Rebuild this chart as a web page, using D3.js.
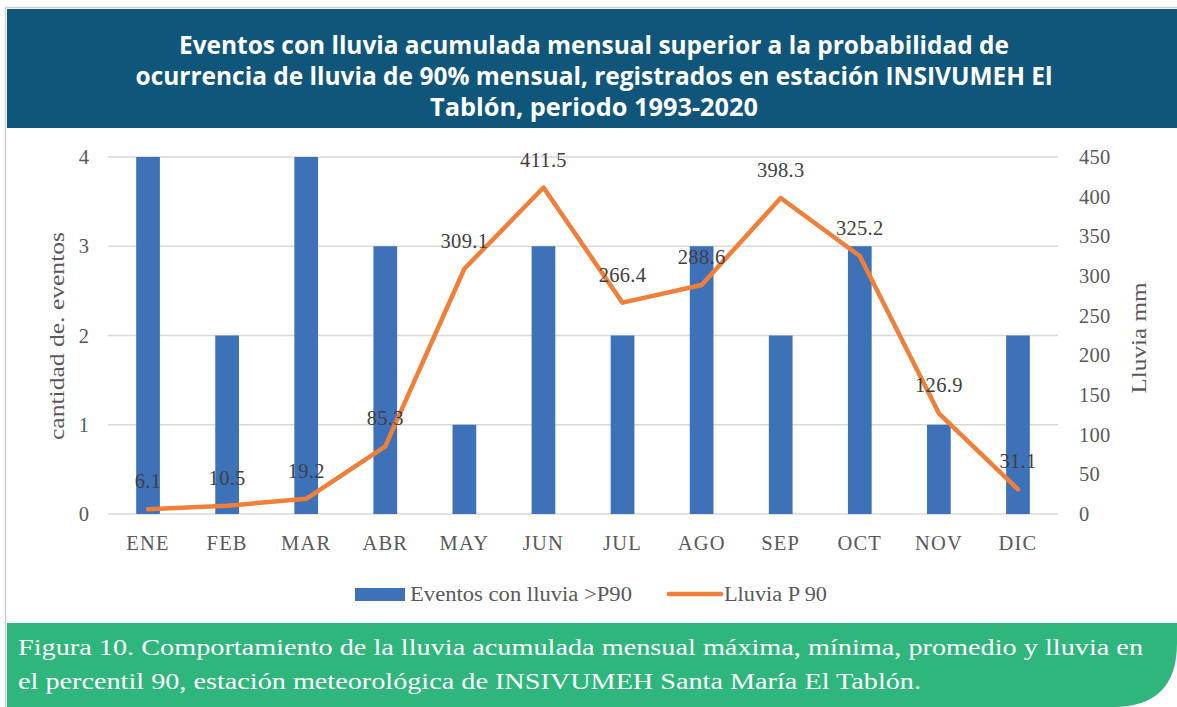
<!DOCTYPE html>
<html><head><meta charset="utf-8">
<script src="https://cdn.jsdelivr.net/npm/d3@7"></script>
<style>body{margin:0;background:#fff}svg{display:block}</style>
</head><body>
<svg id="c" width="1177" height="707"></svg>
<script>
const months = ["ENE","FEB","MAR","ABR","MAY","JUN","JUL","AGO","SEP","OCT","NOV","DIC"];
const eventos = [4,2,4,3,1,3,2,3,2,3,1,2];
const lluviaP90 = [6.1,10.5,19.2,85.3,309.1,411.5,266.4,288.6,398.3,325.2,126.9,31.1];
const leftTicks = [0,1,2,3,4];
const rightTicks = [0,50,100,150,200,250,300,350,400,450];
const titleLines = ["Eventos con lluvia acumulada mensual superior a la probabilidad de","ocurrencia de lluvia de 90% mensual, registrados en estación INSIVUMEH El","Tablón, periodo 1993-2020"];
const captionLines = ["Figura 10. Comportamiento de la lluvia acumulada mensual máxima, mínima, promedio y lluvia en","el percentil 90, estación meteorológica de INSIVUMEH Santa María El Tablón."];
const legendLabels = ["Eventos con lluvia >P90","Lluvia P 90"];

const svg = d3.select("#c");
const serif = "'Liberation Serif','DejaVu Serif',serif";
const txt = "#595959";

// outer border
svg.append("rect").attr("x",5.5).attr("y",7.5).attr("width",1180).attr("height",720)
  .attr("fill","none").attr("stroke","#d0d0d0").attr("stroke-width",1.5);
// title band
svg.append("rect").attr("x",7).attr("y",9).attr("width",1170).attr("height",119).attr("fill","#10567B");
const titleLens = [830,917,328];
svg.append("g").selectAll("text").data(titleLines).join("text")
  .attr("x",594).attr("y",(d,i)=>54+i*31).attr("text-anchor","middle")
  .attr("fill","#fff").attr("font-family","'Open Sans',sans-serif").attr("font-weight",700)
  .attr("font-size",25).attr("textLength",(d,i)=>titleLens[i]).attr("lengthAdjust","spacingAndGlyphs")
  .text(d=>d);

const x = d3.scaleBand().domain(months).range([108.5,1057.5]).paddingInner(0.7).paddingOuter(0.35);
const yL = d3.scaleLinear().domain([0,4]).range([514,157]);
const yR = d3.scaleLinear().domain([0,450]).range([514,157]);

// gridlines
svg.append("g").selectAll("line").data(leftTicks).join("line")
  .attr("x1",108).attr("x2",1058).attr("y1",d=>yL(d)).attr("y2",d=>yL(d))
  .attr("stroke","#d9d9d9").attr("stroke-width",1.5);

// left axis
const gl = svg.append("g").attr("transform","translate(89,0)")
  .call(d3.axisLeft(yL).tickValues(leftTicks).tickSize(0).tickPadding(0).tickFormat(d3.format("d")));
gl.select(".domain").remove();
gl.selectAll("text").attr("font-family",serif).attr("font-size",20.5).attr("fill",txt);

// right axis
const gr = svg.append("g").attr("transform","translate(1079,0)")
  .call(d3.axisRight(yR).tickValues(rightTicks).tickSize(0).tickPadding(0));
gr.select(".domain").remove();
gr.selectAll("text").attr("font-family",serif).attr("font-size",20.5).attr("fill",txt).attr("letter-spacing",0.3);

// x axis
const gx = svg.append("g").attr("transform","translate(0,529)")
  .call(d3.axisBottom(x).tickSize(0).tickPadding(6));
gx.select(".domain").remove();
gx.selectAll("text").attr("font-family",serif).attr("font-size",20.5).attr("fill",txt)
  .attr("dy","0.71em").attr("letter-spacing",1.2);

// axis titles
svg.append("text").attr("transform","translate(64,336) rotate(-90)").attr("text-anchor","middle")
  .attr("font-family",serif).attr("font-size",22).attr("fill",txt)
  .attr("textLength",208).attr("lengthAdjust","spacingAndGlyphs").text("cantidad de. eventos");
svg.append("text").attr("transform","translate(1146,338) rotate(-90)").attr("text-anchor","middle")
  .attr("font-family",serif).attr("font-size",22).attr("fill",txt)
  .attr("textLength",111).attr("lengthAdjust","spacingAndGlyphs").text("Lluvia mm");

// bars
svg.append("g").selectAll("rect").data(months).join("rect")
  .attr("x",d=>x(d)).attr("width",x.bandwidth())
  .attr("y",(d,i)=>yL(eventos[i])).attr("height",(d,i)=>yL(0)-yL(eventos[i]))
  .attr("fill","#3D72B9");

// line
const cx = d=>x(d)+x.bandwidth()/2;
svg.append("path").datum(months)
  .attr("d",d3.line().x(cx).y((d,i)=>yR(lluviaP90[i])))
  .attr("fill","none").attr("stroke","#F07F3A").attr("stroke-width",4.5)
  .attr("stroke-linecap","round").attr("stroke-linejoin","round");

// data labels
svg.append("g").selectAll("text").data(months).join("text")
  .attr("x",cx).attr("y",(d,i)=>yR(lluviaP90[i])-21)
  .attr("text-anchor","middle").attr("font-family",serif).attr("font-size",20.5).attr("fill","#404040")
  .attr("letter-spacing",0.3)
  .text((d,i)=>d3.format(".1f")(lluviaP90[i]));

// legend
svg.append("rect").attr("x",355).attr("y",588).attr("width",50).attr("height",13).attr("fill","#3D72B9");
svg.append("text").attr("x",410).attr("y",601).attr("font-family",serif).attr("font-size",20).attr("fill",txt)
  .attr("textLength",222).attr("lengthAdjust","spacingAndGlyphs").text(legendLabels[0]);
svg.append("line").attr("x1",669).attr("x2",721).attr("y1",594).attr("y2",594)
  .attr("stroke","#F07F3A").attr("stroke-width",4.5).attr("stroke-linecap","round");
svg.append("text").attr("x",724).attr("y",601).attr("font-family",serif).attr("font-size",20).attr("fill",txt)
  .attr("textLength",103).attr("lengthAdjust","spacingAndGlyphs").text(legendLabels[1]);

// caption band
svg.append("path").attr("d","M7,623 H1177 V643 Q1177,707 1113,707 H7 Z").attr("fill","#2EB67D");
const capLens = [1125,903];
svg.append("g").selectAll("text").data(captionLines).join("text")
  .attr("x",18).attr("y",(d,i)=>655+i*34).attr("fill","#fff")
  .attr("font-family",serif).attr("font-size",24)
  .attr("textLength",(d,i)=>capLens[i]).attr("lengthAdjust","spacingAndGlyphs").text(d=>d);
</script>
</body></html>
